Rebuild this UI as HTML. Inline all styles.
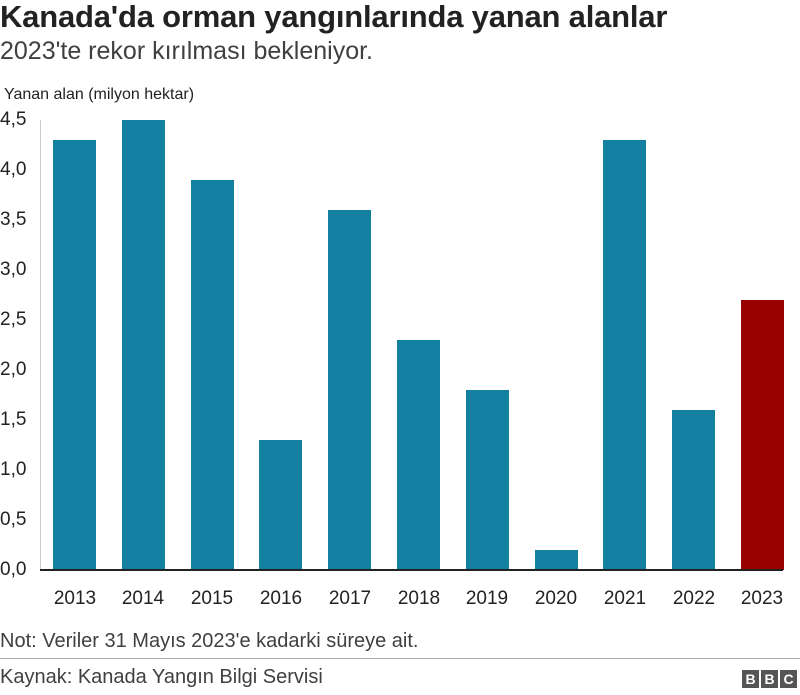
<!DOCTYPE html>
<html><head><meta charset="utf-8"><style>
body{margin:0;width:800px;height:695px;background:#fff;font-family:"Liberation Sans",Arial,sans-serif;position:relative;overflow:hidden;color:#222}
.a{position:absolute;white-space:nowrap}
.bar{position:absolute;width:43px;background:#1380a1}
.yl{position:absolute;left:0;font-size:19px;width:40px;text-align:left}
.xl{position:absolute;top:588px;font-size:19px;width:70px;text-align:center}
</style></head><body>
<div class="a" style="left:0;top:-1px;font-size:31px;font-weight:bold;color:#222;letter-spacing:-0.2px">Kanada'da orman yangınlarında yanan alanlar</div>
<div class="a" style="left:0;top:37px;font-size:25px;color:#404040">2023'te rekor kırılması bekleniyor.</div>
<div class="a" style="left:4px;top:86px;font-size:16px">Yanan alan (milyon hektar)</div>
<div style="position:absolute;left:40px;top:120px;width:1px;height:450px;background:#ccc"></div>
<div class="yl" style="top:109px">4,5</div>
<div class="yl" style="top:159px">4,0</div>
<div class="yl" style="top:209px">3,5</div>
<div class="yl" style="top:259px">3,0</div>
<div class="yl" style="top:309px">2,5</div>
<div class="yl" style="top:359px">2,0</div>
<div class="yl" style="top:409px">1,5</div>
<div class="yl" style="top:459px">1,0</div>
<div class="yl" style="top:509px">0,5</div>
<div class="yl" style="top:559px">0,0</div>
<div class="bar" style="left:53px;top:140px;height:430px"></div>
<div class="bar" style="left:122px;top:120px;height:450px"></div>
<div class="bar" style="left:191px;top:180px;height:390px"></div>
<div class="bar" style="left:259px;top:440px;height:130px"></div>
<div class="bar" style="left:328px;top:210px;height:360px"></div>
<div class="bar" style="left:397px;top:340px;height:230px"></div>
<div class="bar" style="left:466px;top:390px;height:180px"></div>
<div class="bar" style="left:535px;top:550px;height:20px"></div>
<div class="bar" style="left:603px;top:140px;height:430px"></div>
<div class="bar" style="left:672px;top:410px;height:160px"></div>
<div class="bar" style="left:741px;top:300px;height:270px;background:#990000"></div>
<div style="position:absolute;left:40px;top:569px;width:743px;height:2px;background:#222"></div>
<div class="xl" style="left:40px">2013</div>
<div class="xl" style="left:108px">2014</div>
<div class="xl" style="left:177px">2015</div>
<div class="xl" style="left:246px">2016</div>
<div class="xl" style="left:315px">2017</div>
<div class="xl" style="left:384px">2018</div>
<div class="xl" style="left:452px">2019</div>
<div class="xl" style="left:521px">2020</div>
<div class="xl" style="left:590px">2021</div>
<div class="xl" style="left:659px">2022</div>
<div class="xl" style="left:727px">2023</div>
<div class="a" style="left:0;top:630px;font-size:20px;color:#404040">Not: Veriler 31 Mayıs 2023'e kadarki süreye ait.</div>
<div style="position:absolute;left:0;top:658px;width:800px;height:1px;background:#aaa"></div>
<div class="a" style="left:0;top:666px;font-size:20px;color:#404040">Kaynak: Kanada Yangın Bilgi Servisi</div>
<div style="position:absolute;left:742px;top:670px;display:flex;gap:2px">
<div style="width:17px;height:18px;background:#555;color:#fff;font-weight:bold;font-size:14px;text-align:center;line-height:18px">B</div>
<div style="width:17px;height:18px;background:#555;color:#fff;font-weight:bold;font-size:14px;text-align:center;line-height:18px">B</div>
<div style="width:17px;height:18px;background:#555;color:#fff;font-weight:bold;font-size:14px;text-align:center;line-height:18px">C</div>
</div>
</body></html>
